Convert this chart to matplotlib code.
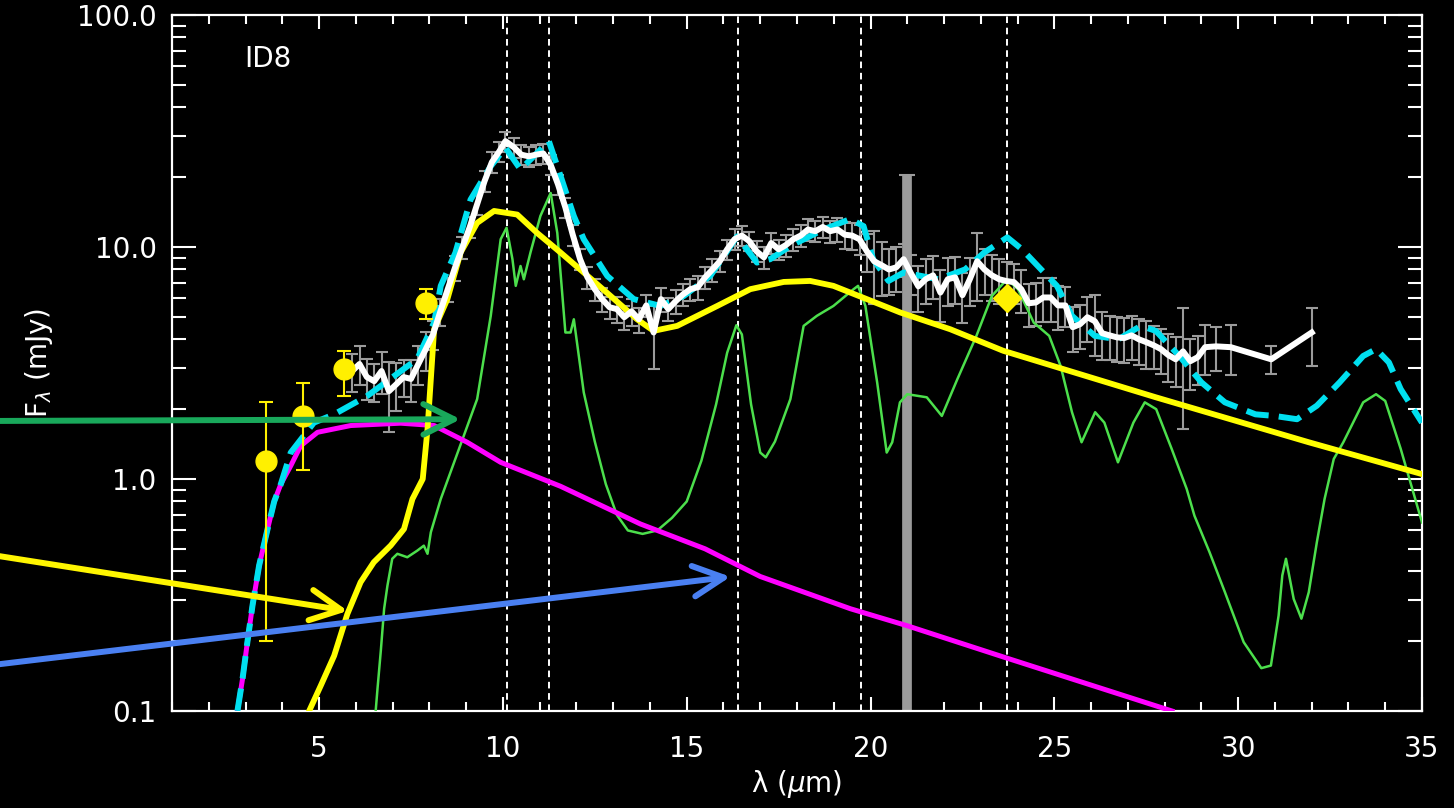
import numpy as np
import matplotlib
matplotlib.use('Agg')
import matplotlib.pyplot as plt
from matplotlib.ticker import FixedLocator, FixedFormatter, MultipleLocator, LogLocator, NullFormatter

# IRS spectrum (white line + grey error bars)
spec_wl = [5.9, 6.1, 6.3, 6.5, 6.7, 6.9, 7.1, 7.3, 7.5, 7.7, 7.9,
           8.1, 8.3, 8.5, 8.7, 8.9, 9.1, 9.3, 9.5, 9.7, 9.9,
           10.07,
           10.3, 10.5, 10.7, 10.9, 11.1, 11.3, 11.5, 11.7, 11.9, 12.1,
           12.3, 12.5, 12.7, 12.9, 13.1, 13.3, 13.5, 13.7, 13.9, 14.1,
           14.3, 14.5, 14.7, 14.9, 15.1, 15.3, 15.5, 15.7, 15.9, 16.1,
           16.3, 16.5, 16.7, 16.9, 17.1, 17.3, 17.5, 17.7, 17.9, 18.1,
           18.3, 18.5, 18.7, 18.9, 19.1, 19.3, 19.5, 19.7, 19.9, 20.1,
           20.3, 20.5, 20.7, 20.9, 21.1, 21.3, 21.5, 21.7, 21.9, 22.1,
           22.3, 22.5, 22.7, 22.9, 23.1, 23.3, 23.5, 23.7, 23.9, 24.1,
           24.3, 24.5, 24.7, 24.9, 25.1, 25.3, 25.5, 25.7, 25.9, 26.1,
           26.3, 26.5, 26.7, 26.9, 27.1, 27.3, 27.5, 27.7, 27.9, 28.1,
           28.3, 28.5, 28.7, 28.9, 29.1,
           29.4, 29.8, 30.9, 32.0]
spec_fl = [2.92, 3.13, 2.75, 2.64, 2.92, 2.39, 2.56, 2.75, 2.70, 3.13, 3.62,
           4.20, 5.28, 6.58, 8.17, 9.97, 12.2, 15.3, 19.2, 23.2, 25.8,
           28.6,
           26.9, 25.0, 24.6, 25.0, 25.3, 22.6, 18.6, 14.8, 11.3, 8.86,
           7.40, 6.58, 5.96, 5.50, 5.40, 4.98, 5.28, 4.88, 5.60, 4.28,
           5.96, 5.40, 5.84, 6.25, 6.58, 6.71, 7.40, 8.00, 8.68, 9.77,
           10.8, 11.2, 10.6, 9.58, 9.02, 10.4, 9.77, 10.2, 10.8, 11.2,
           11.9, 11.7, 12.2, 11.7, 11.9, 11.3, 11.2, 10.8, 9.58, 8.68,
           8.35, 8.00, 8.17, 8.86, 7.70, 6.77, 7.26, 7.55, 6.36, 7.26,
           7.40, 6.20, 7.26, 8.68, 8.00, 7.55, 7.26, 7.13, 7.06, 6.58,
           5.72, 5.77, 6.06, 6.06, 5.60, 5.60, 4.51, 4.65, 4.98, 4.79,
           4.25, 4.16, 4.08, 4.05, 4.16, 4.00, 3.89, 3.77, 3.63, 3.42,
           3.28, 3.55, 3.22, 3.35, 3.70,
           3.73, 3.70, 3.28, 4.28]
spec_err = [0.55, 0.6, 0.55, 0.5, 0.6, 0.8, 0.6, 0.5, 0.55, 0.6, 0.7,
            0.6, 0.7, 0.8, 1.0, 1.1, 1.3, 1.6, 2.0, 2.4, 2.6,
            2.8,
            2.6, 2.4, 2.4, 2.4, 2.5, 2.2, 1.9, 1.5, 1.2, 0.9,
            0.8, 0.7, 0.7, 0.6, 0.7, 0.6, 0.7, 0.6, 0.6, 1.3,
            0.7, 0.6, 0.7, 0.7, 0.7, 0.8, 0.8, 0.9, 0.9, 1.0,
            1.1, 1.1, 1.0, 1.0, 1.0, 1.1, 1.0, 1.1, 1.2, 1.2,
            1.3, 1.2, 1.3, 1.3, 1.4, 1.5, 1.5, 1.6, 1.8, 3.0,
            2.2, 1.8, 1.8, 1.4, 1.5, 1.5, 1.6, 1.6, 1.6, 1.7,
            1.7, 1.5, 1.7, 2.8, 1.8, 1.7, 1.6, 1.5, 1.4, 1.4,
            1.2, 1.2, 1.3, 1.3, 1.2, 1.1, 1.0, 1.0, 1.1, 1.4,
            1.0, 0.9, 0.9, 0.9, 0.9, 0.9, 0.9, 0.8, 0.8, 0.8,
            0.8, 1.9, 0.8, 0.8, 0.9,
            0.8, 0.9, 0.45, 1.2]

# the one very large error bar near 21 um
big_wl = [21.0]
big_fl = [8.5]
big_lo = [8.45]
big_hi = [12.0]

# broad-band photometry
phot_wl = [3.55, 4.55, 5.68, 7.90]
phot_fl = [1.195, 1.87, 2.98, 5.72]
phot_lo = [0.995, 0.78, 0.70, 0.84]
phot_hi = [0.955, 0.72, 0.59, 0.84]
mips_wl = [23.7]
mips_fl = [6.0]

# stellar photosphere (magenta)
star_wl = [2.78, 2.92, 3.05, 3.19, 3.37, 3.60, 3.78, 3.96, 4.23, 4.50, 4.96,
           5.86, 7.22, 8.13, 9.03, 9.94, 11.57, 13.74, 15.5, 17.0, 19.45,
           21.0, 23.71, 28.2]
star_fl = [0.10, 0.138, 0.198, 0.285, 0.424, 0.609, 0.80, 0.95, 1.14, 1.39, 1.59,
           1.70, 1.74, 1.70, 1.44, 1.18, 0.93, 0.64, 0.50, 0.38, 0.276,
           0.233, 0.169, 0.10]

# total model (cyan dashed)
model_wl = [2.78, 2.92, 3.05, 3.19, 3.37, 3.60, 3.78, 3.96, 4.23, 4.86, 5.41,
            6.31, 7.67, 8.13, 8.31, 8.71, 9.12, 9.67, 10.07, 10.48, 10.84,
            11.25, 11.57, 11.93, 12.2, 12.84, 13.56, 14.29, 14.92, 15.64, 16.37,
            16.91, 17.27, 17.82, 18.72, 19.45, 19.81, 20.07, 20.49, 20.9, 21.84,
            22.57, 23.09, 23.72, 24.12, 24.64, 25.07, 25.48, 26.1, 26.74, 27.35,
            27.76, 28.4, 29.0, 29.64, 30.47, 30.99, 31.6, 32.14, 32.76, 33.4,
            33.75, 34.1, 34.42, 35.0]
model_fl = [0.10, 0.138, 0.198, 0.285, 0.424, 0.609, 0.80, 0.95, 1.30, 1.75, 1.90,
            2.28, 3.29, 4.73, 6.80, 9.46, 16.0, 22.3, 26.8, 21.6, 24.6,
            28.6, 20.2, 13.6, 10.8, 7.50, 5.96, 5.57, 6.15, 7.50, 11.1,
            8.57, 8.86, 10.1, 11.9, 13.2, 12.3, 8.86, 7.14, 7.76, 7.26,
            8.00, 9.46, 11.0, 9.77, 8.00, 6.80, 5.05, 4.14, 4.00, 4.57,
            4.35, 3.39, 2.61, 2.14, 1.90, 1.87, 1.81, 2.07, 2.61, 3.39,
            3.63, 3.18, 2.44, 1.75]

# warm dust continuum (yellow)
cont_wl = [4.73, 5.05, 5.41, 5.77, 6.13, 6.49, 6.95, 7.31, 7.54, 7.82, 7.95,
           8.04, 8.13, 8.49, 8.85, 9.30, 9.76, 10.39, 10.93, 11.57, 12.2,
           12.93, 13.65, 14.10, 14.74, 15.83, 16.73, 17.64, 18.36, 18.99, 19.9,
           20.81, 22.17, 23.61, 27.76, 31.92, 35.0]
cont_fl = [0.10, 0.129, 0.173, 0.262, 0.359, 0.438, 0.517, 0.609, 0.82, 1.0, 1.64,
           2.69, 4.42, 5.96, 9.46, 12.7, 14.3, 13.8, 11.5, 9.46, 7.76,
           6.15, 4.88, 4.35, 4.57, 5.57, 6.58, 7.07, 7.14, 6.80, 5.96,
           5.22, 4.42, 3.57, 2.25, 1.44, 1.05]

# crystalline silicate emission (green)
xtal_wl = [6.54, 6.59, 6.68, 6.77, 6.86, 6.99, 7.13, 7.40, 7.67, 7.85, 7.95,
           8.04, 8.31, 9.30, 9.67, 9.94, 10.1, 10.26, 10.35, 10.48, 10.57,
           10.75, 11.02, 11.30, 11.48, 11.70, 11.84, 11.93, 12.2, 12.5, 12.8,
           13.1, 13.4, 13.8, 14.2, 14.6, 15.0, 15.4, 15.8, 16.1, 16.35,
           16.5, 16.75, 17.0, 17.15, 17.4, 17.82, 18.18, 18.54, 18.99, 19.54,
           19.66, 19.86, 20.18, 20.44, 20.59, 20.8, 21.0, 21.53, 21.94, 22.36,
           22.88, 23.30, 23.71, 24.01, 24.44, 24.86, 25.17, 25.48, 25.74, 26.11,
           26.36, 26.73, 27.15, 27.46, 27.77, 28.19, 28.6, 28.81, 29.22, 29.64,
           30.15, 30.63, 30.89, 31.1, 31.2, 31.3, 31.51, 31.72, 31.92, 32.14,
           32.35, 32.6, 32.86, 33.4, 33.75, 34.0, 34.42, 35.0]
xtal_fl = [0.10, 0.125, 0.182, 0.276, 0.347, 0.453, 0.476, 0.46, 0.491, 0.516, 0.476,
           0.589, 0.82, 2.21, 5.05, 10.8, 12.1, 8.86, 6.80, 8.28, 7.26,
           9.46, 13.6, 17.1, 11.5, 4.28, 4.28, 4.88, 2.36, 1.45, 0.95,
           0.70, 0.60, 0.58, 0.60, 0.68, 0.80, 1.2, 2.1, 3.5, 4.6,
           4.2, 2.1, 1.3, 1.24, 1.45, 2.21, 4.57, 5.05, 5.57, 6.58,
           6.8, 5.57, 2.61, 1.30, 1.44, 2.14, 2.32, 2.25, 1.87, 2.69,
           4.14, 6.15, 7.26, 6.58, 4.72, 4.14, 3.07, 1.94, 1.44, 1.94,
           1.75, 1.18, 1.75, 2.14, 2.0, 1.35, 0.906, 0.695, 0.484, 0.325,
           0.198, 0.153, 0.157, 0.258, 0.384, 0.453, 0.304, 0.25, 0.325, 0.534,
           0.82, 1.22, 1.44, 2.14, 2.32, 2.17, 1.35, 0.65]

# feature wavelengths (dotted lines)
feature_wl = [10.1, 11.25, 16.4, 19.75, 23.7]

x_ticks = [5, 10, 15, 20, 25, 30, 35]
y_ticks = [0.1, 1, 10, 100]
y_ticklabels = ['0.1', '1.0', '10.0', '100.0']

# arrows: (tip wavelength, tip flux, tail figure-fraction y, colour)
arrow_tip_wl = [8.85, 5.78, 16.19]
arrow_tip_fl = [1.81, 0.27, 0.379]
arrow_tail_y = [0.479, 0.313, 0.177]
arrow_colors = ['#19A85B', '#FFF500', '#4A80F2']

W, H = 1454, 808
fig = plt.figure(figsize=(W / 100, H / 100), dpi=100, facecolor='black')
ax = fig.add_axes([172 / W, 1 - 711 / H, 1250 / W, 696 / H])
ax.set_facecolor('black')

ax.set_yscale('log')
ax.set_xlim(1, 35)
ax.set_ylim(0.1, 100)

for x in feature_wl:
  ax.axvline(x, color='white', lw=1.4, ls=(0, (3.4, 2.4)), zorder=1)

ax.errorbar(spec_wl, spec_fl, yerr=spec_err, fmt='none', ecolor='#9b9b9b',
            elinewidth=1.5, capsize=4, capthick=1.5, zorder=2)
ax.errorbar(big_wl, big_fl, yerr=[big_lo, big_hi], fmt='none', ecolor='#9b9b9b',
            elinewidth=7, capsize=6, capthick=1.5, zorder=2)

ax.plot(xtal_wl, xtal_fl, color='#4CDF4C', lw=1.8, zorder=3)
ax.plot(star_wl, star_fl, color='#FF00FF', lw=3.6, zorder=4)
ax.plot(cont_wl, cont_fl, color='#FFFF00', lw=4.2, zorder=5)
ax.plot(model_wl, model_fl, color='#00E0F0', lw=4.3, ls=(0, (3.8, 1.7)),
        dash_capstyle='butt', zorder=6)
ax.plot(spec_wl, spec_fl, color='white', lw=4.3, zorder=7)

ax.errorbar(phot_wl, phot_fl, yerr=[phot_lo, phot_hi], fmt='o', color='#FFF000',
            ms=15, elinewidth=1.5, capsize=5, capthick=1.5, zorder=8)
ax.plot(mips_wl, mips_fl, marker='D', ms=14, color='#FFF000', ls='none', zorder=8)

ax.text(0.058, 0.957, 'ID8', transform=ax.transAxes, color='white',
        fontsize=20, va='top', ha='left')

# IDL-like axes
ax.xaxis.set_major_locator(FixedLocator(x_ticks))
ax.xaxis.set_minor_locator(MultipleLocator(1))
ax.yaxis.set_major_locator(FixedLocator(y_ticks))
ax.yaxis.set_major_formatter(FixedFormatter(y_ticklabels))
ax.yaxis.set_minor_locator(LogLocator(base=10, subs=np.arange(2, 10)))
ax.yaxis.set_minor_formatter(NullFormatter())
ax.tick_params(which='both', direction='in', top=True, right=True,
               colors='white', width=1.5, labelsize=20)
ax.tick_params(axis='x', which='major', length=10, pad=17)
ax.tick_params(axis='x', which='minor', length=6.5)
ax.tick_params(axis='y', which='major', length=17, pad=11)
ax.tick_params(axis='y', which='minor', length=10)
for s in ax.spines.values():
  s.set_color('white')
  s.set_linewidth(1.6)

ax.set_xlabel('λ (' + r'$\mu$' + 'm)', color='white', fontsize=20, labelpad=4)
ax.set_ylabel(r'F$_\lambda$ (mJy)', color='white', fontsize=20, labelpad=16)

for i in range(len(arrow_tip_wl)):
  ax.annotate('', xy=(arrow_tip_wl[i], arrow_tip_fl[i]), xycoords='data',
              xytext=(-0.005, arrow_tail_y[i]), textcoords='figure fraction',
              arrowprops=dict(arrowstyle='->,head_length=1.1,head_width=0.55',
                              color=arrow_colors[i], lw=4.3, mutation_scale=20,
                              shrinkA=0, shrinkB=0),
              annotation_clip=False, zorder=20)

fig.savefig('out.png', dpi=100, facecolor='black')
